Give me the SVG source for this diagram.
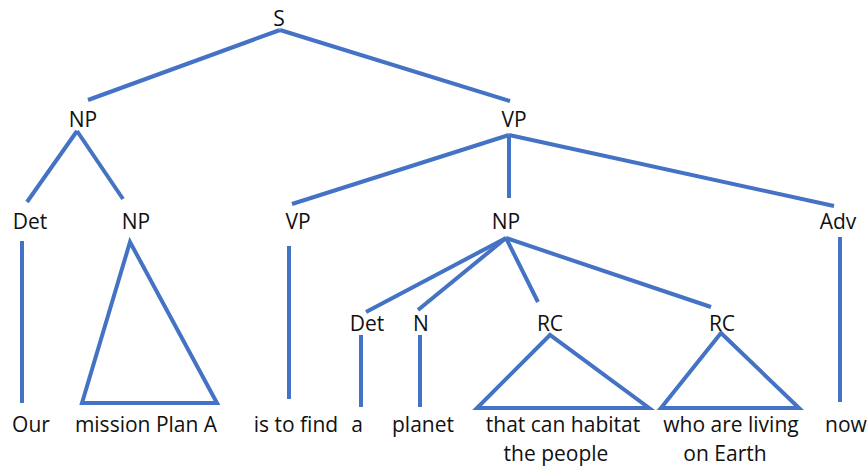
<svg xmlns="http://www.w3.org/2000/svg" width="868" height="468" viewBox="0 0 868 468">
<style>
text{font-family:"Open Sans","Noto Sans","Liberation Sans",sans-serif;font-size:21px;fill:#111;text-anchor:middle}
.c line,.c polygon{stroke:#4472C4;stroke-width:4;fill:none;stroke-linecap:butt}
.c polygon{stroke-linejoin:miter}
</style>
<rect width="868" height="468" fill="#fff"/>
<g class="c" id="connectors">
<line x1="280" y1="30" x2="88" y2="100"/>
<line x1="280" y1="30" x2="510" y2="101"/>
<line x1="77" y1="131" x2="27" y2="202"/>
<line x1="77" y1="131" x2="123" y2="199"/>
<line x1="22" y1="241" x2="22" y2="403"/>
<polygon points="130,242 82,403 217,403"/>
<line x1="509" y1="135" x2="292" y2="204"/>
<line x1="509" y1="135" x2="509" y2="198"/>
<line x1="509" y1="135" x2="834" y2="206"/>
<line x1="289" y1="246" x2="289" y2="399"/>
<line x1="506" y1="238" x2="366" y2="312"/>
<line x1="506" y1="238" x2="418" y2="310"/>
<line x1="506" y1="238" x2="538" y2="302"/>
<line x1="506" y1="238" x2="711" y2="307"/>
<line x1="361" y1="335" x2="361" y2="407"/>
<line x1="420" y1="335" x2="420" y2="407"/>
<polygon points="550,335 477,408 649,408"/>
<polygon points="721,333 661,408 799,408"/>
<line x1="840" y1="237" x2="840" y2="402"/>
</g>
<g id="S"><text x="279" y="26">S</text></g>
<g id="NP1"><text x="83" y="127">NP</text></g>
<g id="VP1"><text x="514" y="127">VP</text></g>
<g id="Det1"><text x="30" y="229">Det</text></g>
<g id="NP2"><text x="136" y="229">NP</text></g>
<g id="VP2"><text x="298" y="229">VP</text></g>
<g id="NP3"><text x="506" y="229">NP</text></g>
<g id="Adv"><text x="838" y="229">Adv</text></g>
<g id="Det2"><text x="367" y="331">Det</text></g>
<g id="N"><text x="421" y="331">N</text></g>
<g id="RC1"><text x="550" y="331">RC</text></g>
<g id="RC2"><text x="722" y="331">RC</text></g>
<g id="w-our"><text x="31" y="432">Our</text></g>
<g id="w-mission"><text x="146" y="432">mission Plan A</text></g>
<g id="w-istofind"><text x="296" y="432">is to find</text></g>
<g id="w-a"><text x="357" y="432">a</text></g>
<g id="w-planet"><text x="423" y="432">planet</text></g>
<g id="w-that"><text x="563" y="432">that can habitat</text><text x="556" y="461">the people</text></g>
<g id="w-who"><text x="731" y="432">who are living</text><text x="725" y="461">on Earth</text></g>
<g id="w-now"><text x="846" y="432">now</text></g>
</svg>
